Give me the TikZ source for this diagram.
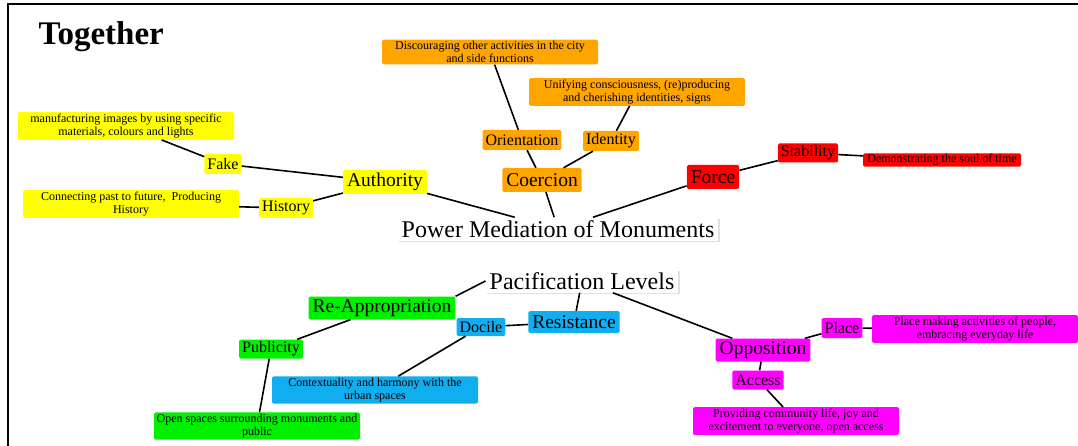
\documentclass[tikz,border=0pt]{standalone}
\usepackage{fontspec}
\setmainfont{Liberation Serif}
\usetikzlibrary{shadows}
\definecolor{myyellow}{HTML}{FFFF00}
\definecolor{myorange}{HTML}{FFA500}
\definecolor{myred}{HTML}{FF0000}
\definecolor{mygreen}{HTML}{00F000}
\definecolor{myblue}{HTML}{10AEEE}
\definecolor{mymagenta}{HTML}{FF00FF}

\begin{document}
\begin{tikzpicture}[x=1pt,y=-1pt,
  lvlone/.style={rounded corners=1.5pt,inner xsep=4pt,inner ysep=0pt,minimum height=24pt,font=\fontsize{19.5}{21}\selectfont},
  lvltwo/.style={rounded corners=1.5pt,inner xsep=3pt,inner ysep=0pt,minimum height=20pt,font=\fontsize{16}{18}\selectfont},
  desc/.style={rounded corners=1.5pt,inner xsep=2pt,inner ysep=2pt,align=center,minimum width=#1,font=\fontsize{12}{12.5}\selectfont},
  desc/.default=216pt,
  hub/.style={fill=white,inner xsep=4pt,inner ysep=3pt,font=\fontsize{24}{26}\selectfont,
    drop shadow={shadow xshift=1.5pt,shadow yshift=-1.5pt,fill=black!12,opacity=1}},
  link/.style={line width=1.6pt}]
  \useasboundingbox (0,0) rectangle (1078,446);
  \draw[line width=2pt] (8,446) -- (8,4) -- (1078,4);
  \node[anchor=base west,font=\fontsize{33}{36}\selectfont\bfseries] (title) at (35,45) {Together};

  % hubs
  \node[hub] (power) at (558,229) {Power Mediation of Monuments};
  \node[hub] (pac) at (582,281) {Pacification Levels};

  % authority
  \node[lvlone,fill=myyellow] (auth) at (385,182) {Authority};
  \node[lvltwo,fill=myyellow] (fake) at (223,164) {Fake};
  \node[lvltwo,fill=myyellow] (hist) at (286,208) {History};
  \node[desc,fill=myyellow] (fakedesc) at (126,126) {manufacturing images by using specific\\materials, colours and lights};
  \node[desc,fill=myyellow] (histdesc) at (131,204) {Connecting past to future,~ Producing\\History};

  % coercion
  \node[lvlone,fill=myorange] (coer) at (542,180) {Coercion};
  \node[lvltwo,fill=myorange] (orient) at (522,140) {Orientation};
  \node[lvltwo,fill=myorange] (ident) at (611,141) {Identity};
  \node[desc,fill=myorange] (orientdesc) at (490,52) {Discouraging other activities in the city\\and side functions};
  \node[desc,fill=myorange] (identdesc) at (637,92) {Unifying consciousness, (re)producing\\and cherishing identities, signs};

  % force
  \node[lvlone,fill=myred] (force) at (713,177) {Force};
  \node[lvltwo,fill=myred,minimum height=19pt] (stab) at (808,153) {Stability};
  \node[desc=158pt,fill=myred,inner ysep=1pt] (stabdesc) at (942,160) {Demonstrating the soul of time};

  % re-appropriation
  \node[lvlone,fill=mygreen,minimum height=23pt] (reapp) at (382,308) {Re-Appropriation};
  \node[lvltwo,fill=mygreen,minimum height=19pt] (pub) at (271,349) {Publicity};
  \node[desc=206pt,fill=mygreen] (pubdesc) at (257,426) {Open spaces surrounding monuments and\\public};

  % resistance
  \node[lvlone,fill=myblue,minimum height=22pt] (resist) at (574,322) {Resistance};
  \node[lvltwo,fill=myblue,minimum height=18pt] (docile) at (481,327) {Docile};
  \node[desc=206pt,fill=myblue] (docdesc) at (375,390) {Contextuality and harmony with the\\urban spaces};

  % opposition
  \node[lvlone,fill=mymagenta,minimum height=23pt] (oppo) at (763,350) {Opposition};
  \node[lvltwo,fill=mymagenta] (place) at (842,328) {Place};
  \node[lvltwo,fill=mymagenta,minimum height=19pt] (access) at (758,380) {Access};
  \node[desc=206pt,fill=mymagenta] (placedesc) at (975,329) {Place making activities of people,\\embracing everyday life};
  \node[desc=206pt,fill=mymagenta] (accdesc) at (796,421) {Providing community life, joy and\\excitement to everyone, open access};

  % links
  \draw[link] (fakedesc) -- (fake);
  \draw[link] (fake) -- (auth);
  \draw[link] (histdesc) -- (hist);
  \draw[link] (hist) -- (auth);
  \draw[link] (auth) -- (power);
  \draw[link] (orientdesc) -- (orient);
  \draw[link] (orient) -- (coer);
  \draw[link] (identdesc) -- (ident);
  \draw[link] (ident) -- (coer);
  \draw[link] (coer) -- (power);
  \draw[link] (force) -- (power);
  \draw[link] (force) -- (stab);
  \draw[link] (stab) -- (stabdesc);
  \draw[link] (pac.west) -- (reapp.north east);
  \draw[link] (reapp) -- (pub);
  \draw[link] (pub) -- (pubdesc);
  \draw[link] (pac) -- (resist);
  \draw[link] (resist) -- (docile);
  \draw[link] (docile) -- (docdesc);
  \draw[link] (pac) -- (oppo);
  \draw[link] (oppo) -- (place);
  \draw[link] (place) -- (placedesc);
  \draw[link] (oppo) -- (access);
  \draw[link] (access) -- (accdesc);
\end{tikzpicture}
\end{document}
